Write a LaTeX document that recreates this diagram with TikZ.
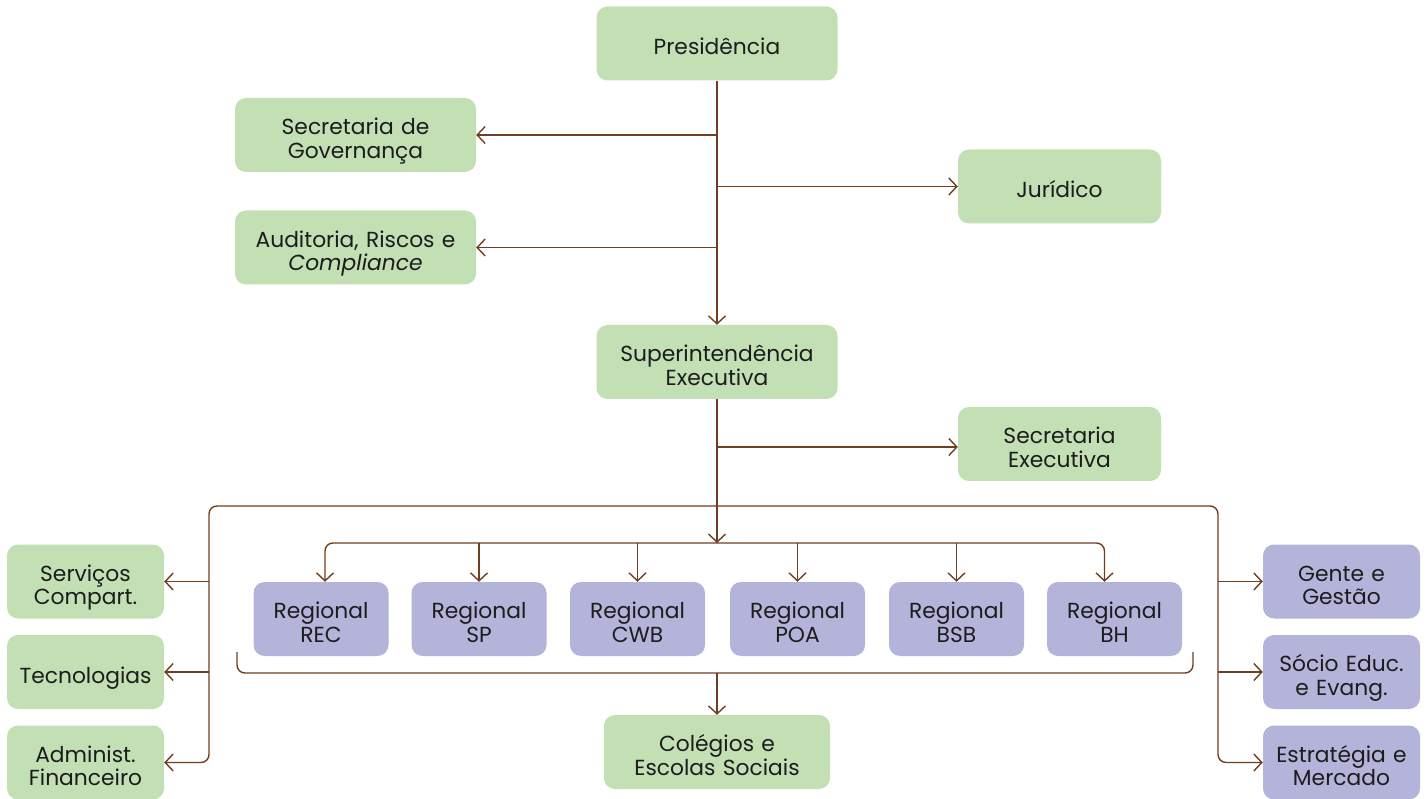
\documentclass[tikz,border=0pt]{standalone}
\usepackage{fontspec}
\setmainfont{Poppins}
\usepackage{tikz}
\usetikzlibrary{positioning,arrows.meta,calc}
\definecolor{govgreen}{RGB}{195,224,181}
\definecolor{regpurple}{RGB}{180,180,218}
\definecolor{linkbrown}{RGB}{112,62,32}
\definecolor{textdark}{RGB}{28,28,28}
\tikzset{
  box/.style={rounded corners=11pt, draw=none, align=center, text=textdark,
    font=\fontsize{21.8}{23.5}\selectfont, inner sep=0pt, minimum height=74pt,
    execute at begin node={\rule{0pt}{30pt}},
    execute at end node={\rule[-7pt]{0pt}{7pt}}},
  boxw/.style={minimum width=#1, text width=#1},
  greenbox/.style={box, fill=govgreen, boxw=241pt},
  purplebox/.style={box, fill=regpurple, boxw=157pt},
  link/.style={draw=linkbrown, line width=1.4pt},
  arr/.style={link, -{Straight Barb[length=8pt,width=17pt,line width=1.4pt]}}
}
\begin{document}
\begin{tikzpicture}[x=1pt,y=-1pt]
        \useasboundingbox (0,0) rectangle (1428,799);

        \node[greenbox] (pres) at (717, 43.5) {Presidência};
        \node[greenbox] (gov) at (355.5, 135) {Secretaria de\\Governança};
        \node[greenbox, boxw=203pt] (jur) at (1059.5, 186.5) {Jurídico};
        \node[greenbox] (aud) at (355.5, 247.5) {Auditoria, Riscos e\\\textit{Compliance}};
        \node[greenbox] (sup) at (717, 362) {Superintendência\\Executiva};
        \node[greenbox, boxw=203pt] (secex) at (1059.5, 444) {Secretaria\\Executiva};

        \node[greenbox, boxw=157pt] (serv) at (85.5, 581.5) {Serviços\\Compart.};
        \node[greenbox, boxw=157pt] (tec) at (85.5, 672) {Tecnologias};
        \node[greenbox, boxw=157pt] (adm) at (85.5, 762.5) {Administ.\\Financeiro};

        \node[purplebox, boxw=135pt] (rec) at (321, 619) {Regional\\REC};
        \node[purplebox, boxw=135pt] (sp) at (479, 619) {Regional\\SP};
        \node[purplebox, boxw=135pt] (cwb) at (637.5, 619) {Regional\\CWB};
        \node[purplebox, boxw=135pt] (poa) at (797.5, 619) {Regional\\POA};
        \node[purplebox, boxw=135pt] (bsb) at (956.5, 619) {Regional\\BSB};
        \node[purplebox, boxw=135pt] (bh) at (1114.5, 619) {Regional\\BH};

        \node[purplebox] (gente) at (1341.5, 581.5) {Gente e\\Gestão};
        \node[purplebox] (socio) at (1341.5, 672) {Sócio Educ.\\e Evang.};
        \node[purplebox] (estr) at (1341.5, 762.5) {Estratégia e\\Mercado};

        \node[greenbox, boxw=226pt] (col) at (717, 752) {Colégios e\\Escolas Sociais};

        \coordinate (ftl) at (209, 506);
        \coordinate (ftr) at (1218, 506);
        \coordinate (exbr) at (717, 447);
        \coordinate (rowtop) at (717, 543);
        \coordinate (brl) at (237, 652);
        \coordinate (brr) at (1193, 652);
        \coordinate (brbot) at (717, 673);

        \draw[arr] (pres.south) -- (sup.north);
        \draw[arr] (pres.south |- gov.east) -- (gov.east);
        \draw[arr] (pres.south |- jur.west) -- (jur.west);
        \draw[arr] (pres.south |- aud.east) -- (aud.east);

        \draw[arr] (sup.south) -- (rowtop);
        \draw[arr] (exbr) -- (exbr -| secex.west);

        \draw[arr, rounded corners=8pt] (sup.south |- ftl) -- (ftl) |- (adm.east);
        \draw[arr, rounded corners=8pt] (sup.south |- ftr) -- (ftr) |- (estr.west);
        \draw[arr] (ftl |- serv.east) -- (serv.east);
        \draw[arr] (ftl |- tec.east) -- (tec.east);
        \draw[arr] (ftr |- gente.west) -- (gente.west);
        \draw[arr] (ftr |- socio.west) -- (socio.west);

        \draw[arr, rounded corners=8pt] (rowtop) -| ([xshift=4pt]rec.north);
        \draw[arr, rounded corners=8pt] (rowtop) -| ([xshift=-10pt]bh.north);
        \foreach \r in {sp, cwb, poa, bsb}
            \draw[arr] (\r.north |- rowtop) -- (\r.north);

        \draw[link, rounded corners=8pt] (brl) |- (brbot) -| (brr);
        \draw[arr] (brbot) -- (col.north);
    \end{tikzpicture}
\end{document}
